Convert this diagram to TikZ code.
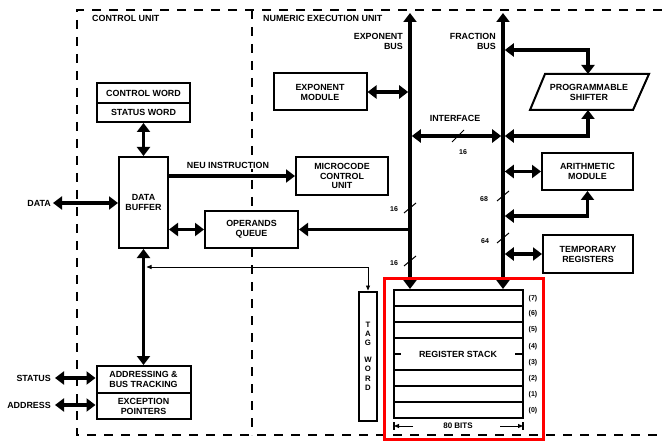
\documentclass[tikz,border=0pt]{standalone}
\usepackage{fontspec}
\setmainfont{Liberation Sans}
\usetikzlibrary{arrows.meta}
\newcommand\lblf{\fontsize{8.9}{9.9}\selectfont\bfseries}
\newcommand\smallf{\fontsize{7}{7.5}\selectfont\bfseries}
\tikzset{
 box/.style={draw, fill=white, line width=2pt, inner sep=0pt, align=center, font=\lblf},
 dbl/.style={line width=3.6pt, {Triangle[width=13pt,length=9pt]}-{Triangle[width=13pt,length=9pt]}},
 sgl/.style={line width=3.6pt, -{Triangle[width=13pt,length=9pt]}},
 frame/.style={line width=1.1pt, dash pattern=on 9pt off 8pt},
 lbl/.style={font=\lblf, inner sep=0pt, align=center},
 small/.style={font=\smallf, inner sep=0pt},
 slash/.style={line width=1pt},
 thinarr/.style={line width=0.9pt, {Triangle[width=4pt,length=5pt]}-{Triangle[width=4pt,length=5pt]}},
 dimarr/.style={line width=0.9pt, -{Triangle[width=4pt,length=5pt]}},
 regline/.style={line width=1.3pt},
}
\begin{document}
\begin{tikzpicture}[x=1pt,y=-1pt]
\useasboundingbox (0,0) rectangle (662,441);
% frame
\draw[frame] (662,10) -- (77,10) -- (77,435) -- (662,435);
\draw[frame] (252,10) -- (252,435);
\node[lbl, anchor=west] (cu) at (92,18) {CONTROL UNIT};
\node[lbl, anchor=west] (neu) at (263,18) {NUMERIC EXECUTION UNIT};

% control unit boxes
\node[box, minimum width=93pt, minimum height=20pt] (cw) at (143.5,93) {CONTROL WORD};
\node[box, minimum width=93pt, minimum height=19pt] (sw) at (143.5,112.5) {STATUS WORD};
\node[box, minimum width=49pt, minimum height=91pt] (db) at (143.5,202.5) {DATA\\BUFFER};
\node[box, minimum width=94pt, minimum height=27pt] (ab) at (143.5,379.5) {ADDRESSING \&\\BUS TRACKING};
\node[box, minimum width=94pt, minimum height=26pt] (ep) at (143.5,406) {EXCEPTION\\POINTERS};

% NEU boxes
\node[box, minimum width=92pt, minimum height=38pt] (mcu) at (342,176) {MICROCODE\\CONTROL\\UNIT};
\node[box, minimum width=93pt, minimum height=37pt] (oq) at (251.5,229.5) {OPERANDS\\QUEUE};
\node[box, minimum width=93pt, minimum height=37pt] (em) at (320,92) {EXPONENT\\MODULE};
\draw[line width=2pt] (545,74) -- (649,74) -- (633,110) -- (530,110) -- cycle;
\node[lbl] (ps) at (589,92) {PROGRAMMABLE\\SHIFTER};
\node[box, minimum width=91pt, minimum height=37pt] (am) at (587.5,171.5) {ARITHMETIC\\MODULE};
\node[box, minimum width=90pt, minimum height=38pt] (tr) at (588,254) {TEMPORARY\\REGISTERS};
\node[box, minimum width=18pt, minimum height=129pt, font=\fontsize{7.8}{9.2}\selectfont\bfseries] (tw) at (368,356) {T\\A\\G\\[8pt]W\\O\\R\\D};
\node[box, minimum width=129pt, minimum height=128pt] (rs) at (458,354) {};

% register stack internals
\foreach \y in {306,322,338,370,386,402} \draw[regline] (393.5,\y) -- (522.5,\y);
\draw[regline] (393.5,354) -- (401,354);
\draw[regline] (515,354) -- (522.5,354);
\node[lbl] (rst) at (458,354) {REGISTER STACK};
\foreach \n/\y in {7/299,6/314,5/330,4/347,3/363,2/379,1/395,0/411}
  \node[small] (r\n) at (533,\y) {(\n)};
\node[lbl, font=\fontsize{8}{9}\selectfont\bfseries] (bits) at (458,426) {80 BITS};
\coordinate (bl) at (394,426);
\coordinate (br) at (523,426);
\draw[dimarr] (413,426) -- (bl);
\draw[dimarr] (500,426) -- (br);
\draw[line width=1.2pt] (394,422) -- (394,430);
\draw[line width=1.2pt] (523,422) -- (523,430);

% buses
\coordinate (ebT) at (410,13);
\coordinate (fbT) at (503,13);
\draw[dbl] (ebT) -- (ebT |- rs.north);
\draw[dbl] (fbT) -- (fbT |- rs.north);
\node[lbl, anchor=north east, align=right] (ebl) at (403,33) {EXPONENT\\BUS};
\node[lbl, anchor=north east, align=right] (fbl) at (496,33) {FRACTION\\BUS};

% connectors
\draw[dbl, shorten >=1.8pt] (em.east) -- (em.east -| ebT);
\coordinate (ifl) at (410,136);
\draw[dbl, shorten <=1.8pt, shorten >=1.8pt] (ifl) -- (ifl -| fbT);
\node[lbl] (ifc) at (455,118) {INTERFACE};
\draw[slash] (452,142) -- (464,130);
\node[small] (if16) at (463,152) {16};

\coordinate (shA) at (503,50);
\coordinate (pstop) at (588,74);
\coordinate (psbot) at (588,110);
\draw[dbl, shorten <=1.8pt] (shA) -| (pstop);
\draw[dbl, shorten >=1.8pt] (psbot) |- (ifl -| fbT);

\draw[dbl, shorten <=1.8pt] (am.west -| fbT) -- (am.west);
\coordinate (amlow) at (503,216);
\draw[dbl, shorten <=1.8pt] (amlow) -| (am.south);
\draw[dbl, shorten <=1.8pt] (tr.west -| fbT) -- (tr.west);

\draw[sgl] (ebT |- oq.east) -- (oq.east);
\draw[dbl] (db.east |- oq.west) -- (oq.west);
\draw[sgl] (db.east |- mcu.west) -- (mcu.west);
\node[lbl, fill=white, inner sep=1pt] (neul) at (228,165) {NEU INSTRUCTION};
\draw[dbl] (sw.south) -- (db.north);
\draw[dbl] (db.south) -- (ab.north);
\coordinate (tagL) at (146.5,267);
\draw[thinarr] (tagL) -| (tw.north);

% slashes on buses
\draw[slash] (404,213) -- (416,203);
\node[small] (e16a) at (394,209) {16};
\draw[slash] (404,266) -- (416,256);
\node[small] (e16b) at (394,263) {16};
\draw[slash] (497,201) -- (509,191);
\node[small] (f68) at (484,199) {68};
\draw[slash] (497,243) -- (509,233);
\node[small] (f64) at (485,241) {64};

% external signals
\node[lbl, anchor=east] (datal) at (51,203) {DATA};
\draw[dbl] ([xshift=2pt]datal.east) -- (db.west |- datal.east);
\node[lbl, anchor=east] (statl) at (51,378) {STATUS};
\draw[dbl] ([xshift=4pt]statl.east) -- (ab.west |- statl.east);
\node[lbl, anchor=east] (addrl) at (51,405) {ADDRESS};
\draw[dbl] ([xshift=4pt]addrl.east) -- (ep.west |- addrl.east);

% highlight
\draw[red, line width=3pt] (384,278) rectangle (543,439);
\end{tikzpicture}
\end{document}
